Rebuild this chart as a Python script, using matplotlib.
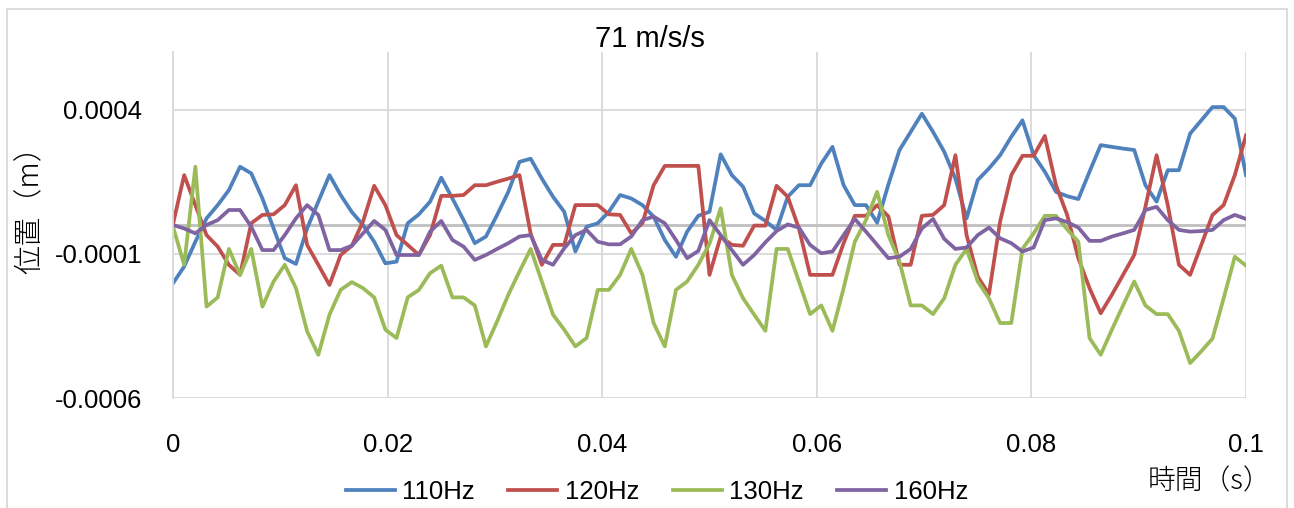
import matplotlib
matplotlib.use("Agg")
import matplotlib.pyplot as plt
import matplotlib.patches as patches
import numpy as np

# frames from 960 fps video, position in units of 1e-4 m
frame_rate = 960
scale = 1e-4

pos_110 = [-2.02, -1.44, -0.58, 0.23, 0.69, 1.21, 2.02, 1.79, 0.92, -0.12,
           -1.15, -1.35, -0.12, 0.81, 1.73, 1.04, 0.45, 0.0, -0.58, -1.33,
           -1.27, 0.06, 0.37, 0.81, 1.64, 0.92, 0.17, -0.63, -0.40, 0.35,
           1.15, 2.19, 2.30, 1.61, 0.98, 0.46, -0.92, -0.06, 0.06, 0.46,
           1.04, 0.92, 0.69, 0.29, -0.52, -1.10, -0.23, 0.32, 0.46, 2.45,
           1.73, 1.33, 0.40, 0.14, -0.17, 0.98, 1.38, 1.38, 2.13, 2.71,
           1.38, 0.69, 0.69, 0.08, 1.40, 2.60, 3.23, 3.86, 3.23, 2.54,
           1.61, 0.23, 1.56, 1.96, 2.42, 3.06, 3.63, 2.42, 1.85, 1.15,
           1.00, 0.90, 1.85, 2.77, 2.71, 2.65, 2.60, 1.38, 0.81, 1.90,
           1.90, 3.17, 3.63, 4.09, 4.09, 3.69, 1.73]

pos_120 = [0.03, 1.73, 0.69, -0.35, -0.75, -1.38, -1.73, 0.06, 0.35, 0.37,
           0.69, 1.38, -0.69, -1.38, -2.08, -1.04, -0.72, 0.12, 1.36, 0.69,
           -0.35, -0.69, -1.04, -0.35, 1.01, 1.01, 1.04, 1.38, 1.38, 1.50,
           1.61, 1.73, -0.30, -1.38, -0.69, -0.69, 0.69, 0.69, 0.69, 0.37,
           0.35, -0.29, 0.06, 1.38, 2.05, 2.05, 2.05, 2.05, -1.73, -0.40,
           -0.69, -0.72, -0.02, -0.02, 1.36, 0.98, -0.12, -1.73, -1.73, -1.73,
           -0.63, 0.32, 0.32, 0.69, 0.30, -1.38, -1.38, 0.32, 0.35, 0.69,
           2.42, -0.35, -1.79, -2.40, 0.12, 1.73, 2.40, 2.40, 3.09, 1.38,
           0.35, -1.15, -2.19, -3.06, -2.42, -1.73, -1.04, 0.63, 2.42, 0.69,
           -1.38, -1.73, -0.69, 0.35, 0.69, 1.73, 3.11]

pos_130 = [-0.06, -1.38, 2.02, -2.83, -2.51, -0.83, -1.73, -0.83, -2.83, -1.96,
           -1.38, -2.19, -3.69, -4.50, -3.11, -2.25, -1.98, -2.19, -2.51, -3.63,
           -3.92, -2.51, -2.25, -1.67, -1.41, -2.51, -2.51, -2.79, -4.21, -3.34,
           -2.42, -1.61, -0.83, -1.96, -3.11, -3.63, -4.21, -3.92, -2.25, -2.25,
           -1.73, -0.83, -1.73, -3.40, -4.21, -2.25, -1.96, -1.38, -0.65, 0.58,
           -1.73, -2.54, -3.11, -3.67, -0.83, -0.83, -1.96, -3.09, -2.79, -3.67,
           -2.19, -0.58, 0.17, 1.15, -0.35, -1.27, -2.79, -2.79, -3.09, -2.54,
           -1.38, -0.83, -1.96, -2.54, -3.40, -3.40, -0.83, -0.29, 0.32, 0.32,
           -0.15, -0.58, -3.92, -4.50, -3.63, -2.79, -1.96, -2.79, -3.09, -3.09,
           -3.67, -4.79, -4.38, -3.94, -2.54, -1.10, -1.41]

pos_160 = [0.0, -0.12, -0.29, 0.0, 0.17, 0.52, 0.52, -0.06, -0.87, -0.87,
           -0.35, 0.23, 0.69, 0.35, -0.87, -0.87, -0.72, -0.29, 0.14, -0.17,
           -1.04, -1.04, -1.04, -0.23, 0.14, -0.52, -0.75, -1.21, -1.04, -0.83,
           -0.63, -0.40, -0.35, -1.21, -1.38, -0.81, -0.35, -0.17, -0.58, -0.67,
           -0.67, -0.40, 0.17, 0.29, 0.06, -0.52, -1.15, -0.90, 0.17, -0.35,
           -0.87, -1.38, -1.04, -0.60, -0.21, 0.02, -0.09, -0.69, -0.98, -0.92,
           -0.35, 0.21, -0.23, -0.69, -1.15, -1.10, -0.83, -0.12, 0.21, -0.48,
           -0.83, -0.78, -0.35, -0.09, -0.46, -0.63, -0.92, -0.78, 0.17, 0.23,
           0.10, -0.09, -0.55, -0.55, -0.40, -0.29, -0.17, 0.52, 0.63, 0.17,
           -0.17, -0.23, -0.21, -0.17, 0.17, 0.35, 0.21]

series = [("110Hz", pos_110, "#4F81BD"),
          ("120Hz", pos_120, "#C0504D"),
          ("130Hz", pos_130, "#9BBB59"),
          ("160Hz", pos_160, "#8064A2")]

yticks = [0.0004, -0.0001, -0.0006]
ytick_labels = ["0.0004", "-0.0001", "-0.0006"]
xticks = [0, 0.02, 0.04, 0.06, 0.08, 0.1]
xtick_labels = ["0", "0.02", "0.04", "0.06", "0.08", "0.1"]

latin = "Liberation Sans"
cjk = ["Noto Sans CJK JP", "DejaVu Sans"]
plt.rcParams["font.family"] = [latin, "Noto Sans CJK JP", "DejaVu Sans"]

W, H = 1294, 508
fig = plt.figure(figsize=(W / 100, H / 100), dpi=100)
ax = fig.add_axes([173 / W, 1 - 398 / H, (1246 - 173) / W, (398 - 52) / H])

for name, vals, col in series:
    t = np.arange(len(vals)) / frame_rate
    ax.plot(t, np.array(vals) * scale, color=col, lw=2.7, label=name,
            solid_joinstyle="round")

ax.set_xlim(0, 0.1)
ax.set_ylim(-0.0006, 0.0006)
ax.set_yticks(yticks)
ax.set_yticklabels(ytick_labels)
ax.set_xticks(xticks)
ax.set_xticklabels(xtick_labels)
ax.tick_params(length=0, labelsize=18.5)
ax.tick_params(axis="y", pad=22)
ax.tick_params(axis="x", pad=25)
ax.grid(True, color="#D9D9D9", lw=1.3)
ax.set_axisbelow(True)
ax.axhline(0, color="#BFBFBF", lw=2, zorder=1)
for s in ["top", "right", "bottom"]:
    ax.spines[s].set_visible(False)
ax.spines["left"].set_color("#D9D9D9")
ax.spines["left"].set_linewidth(1.3)

fig.text(650 / W, 1 - 39 / H, "71 m/s/s", ha="center", va="center", fontsize=21)
fig.text(30 / W, 1 - 203 / H, "位置（m）", rotation=90, ha="center", va="center",
         fontsize=21, family=cjk, fontweight="light")
fig.text(1210 / W, 1 - 481 / H, "時間（s）", ha="center", va="center",
         fontsize=20, family=cjk, fontweight="light")

fig.legend(loc="center", bbox_to_anchor=(657 / W, 1 - 492 / H), ncol=4,
           frameon=False, fontsize=18.5, handlelength=1.9, columnspacing=1.3,
           handletextpad=0.3)

fig.add_artist(patches.Rectangle((7 / W, -0.02), 1280 / W, 1.02 - 9 / H,
                                 transform=fig.transFigure, fill=False,
                                 edgecolor="#D9D9D9", lw=1.3))

fig.savefig("out.png", dpi=100)
